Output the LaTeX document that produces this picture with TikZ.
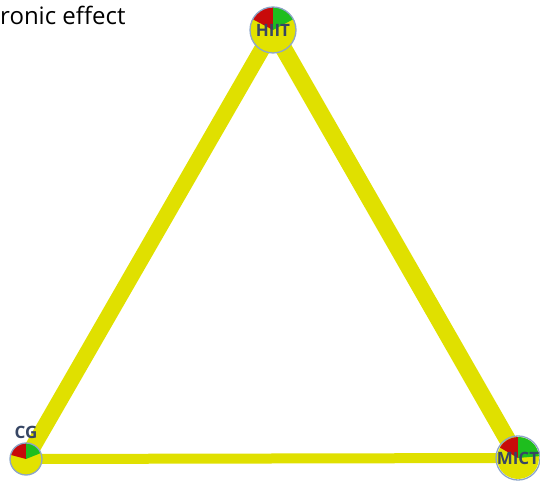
\documentclass[tikz,border=0pt]{standalone}
\usepackage{fontspec}
\setmainfont{Open Sans}
\usepackage{tikz}
\usetikzlibrary{calc}

\definecolor{edgeyellow}{RGB}{224,224,0}
\definecolor{nodeyellow}{RGB}{226,226,0}
\definecolor{ringblue}{RGB}{140,165,200}
\definecolor{labelblue}{RGB}{55,70,100}
\definecolor{sliceRed}{RGB}{200,10,10}
\definecolor{sliceGreen}{RGB}{30,190,30}

\pgfdeclarelayer{edges}
\pgfdeclarelayer{back}
\pgfsetlayers{edges,back,main}

\begin{document}
\begin{tikzpicture}[
    x=1pt, y=1pt,
    arm/.style={draw=ringblue, line width=1.3pt, circle, inner sep=0pt,
                text=labelblue, font=\bfseries\fontsize{17}{17}\selectfont},
    link/.style={edgeyellow, line cap=butt}
]
\useasboundingbox (0,0) rectangle (540,481);

\node at (0,466) [anchor=west, inner sep=0pt, font=\fontsize{24}{24}\selectfont] (title) {ronic effect};

% treatment nodes
\node[arm, minimum size=46pt] (hiit) at (273,451) {HIIT};
\node[arm, minimum size=32pt, label={[font=\bfseries\fontsize{17}{17}\selectfont, text=labelblue, label distance=0pt]above:CG}] (cg) at (26,22) {};
\node[arm, minimum size=42pt] (mict) at (518,23) {MICT};

% edges
\begin{pgfonlayer}{edges}
\draw[link, line width=16pt] (hiit.center) -- (cg.center);
\draw[link, line width=17pt] (hiit.center) -- (mict.center);
\draw[link, line width=10pt] (cg.center) -- (mict.center);
\end{pgfonlayer}

% pies
\begin{pgfonlayer}{back}
\foreach \n/\r/\a/\b in {hiit/23/152/28, cg/16/165/22, mict/21/150/5} {
    \fill[nodeyellow] (\n.center) circle[radius=\r];
    \fill[sliceRed] (\n.center) -- ++(90:\r) arc[start angle=90, end angle=\a, radius=\r] -- cycle;
    \fill[sliceGreen] (\n.center) -- ++(90:\r) arc[start angle=90, end angle=\b, radius=\r] -- cycle;
}
\end{pgfonlayer}

\end{tikzpicture}
\end{document}
